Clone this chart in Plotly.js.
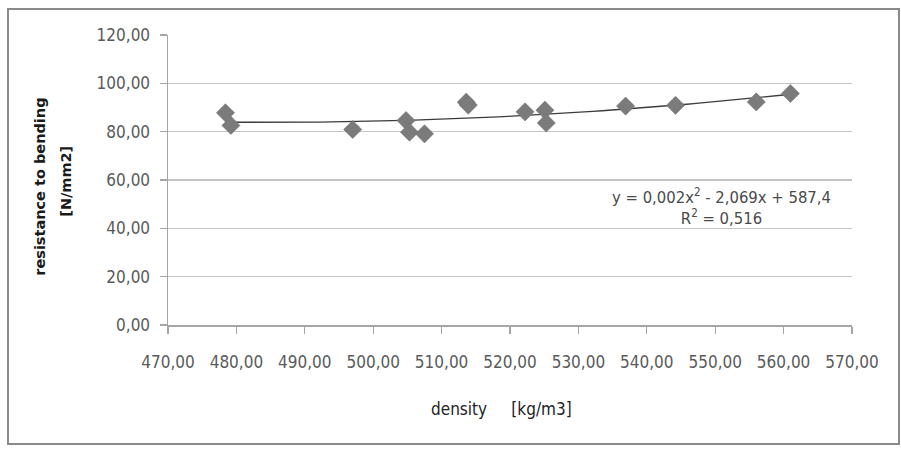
<!DOCTYPE html>
<html>
<head>
<meta charset="utf-8">
<script src="https://cdn.plot.ly/plotly-3.0.1.min.js"></script>
<style>
  html, body { margin: 0; padding: 0; background: #ffffff; }
  #wrap { position: relative; width: 901px; height: 451px; }
  #chart { position: absolute; left: 0; top: 0; width: 901px; height: 451px; }
  #frame { position: absolute; left: 7px; top: 8px; width: 889px; height: 433px;
           border: 2px solid #8a8a8a; pointer-events: none; }
</style>
</head>
<body>
<div id="wrap">
  <div id="chart"></div>
  <div id="frame"></div>
</div>
<script>
// Density [kg/m3] and resistance to bending [N/mm2] of the samples
const density = [478.4, 479.2, 497.0, 504.8, 505.3, 507.5, 513.6, 513.9,
                 522.2, 525.1, 525.3, 536.9, 544.2, 556.0, 561.0];
const resistance = [87.8, 82.6, 80.9, 84.6, 79.8, 79.1, 92.2, 91.0,
                    88.2, 88.9, 83.6, 90.6, 90.9, 92.3, 95.8];

const xTicks = [470, 480, 490, 500, 510, 520, 530, 540, 550, 560, 570];
const yTicks = [0, 20, 40, 60, 80, 100, 120];

// Second-order polynomial least-squares fit (same as a spreadsheet trendline)
function polyFit2(xs, ys) {
  const n = xs.length;
  const xm = xs.reduce((a, b) => a + b, 0) / n;
  let S = [0, 0, 0, 0, 0], T = [0, 0, 0];
  for (let i = 0; i < n; i++) {
    const u = xs[i] - xm;
    for (let k = 0; k < 5; k++) S[k] += Math.pow(u, k);
    for (let k = 0; k < 3; k++) T[k] += ys[i] * Math.pow(u, k);
  }
  const A = [[S[0], S[1], S[2]], [S[1], S[2], S[3]], [S[2], S[3], S[4]]];
  const b = T.slice();
  // Gaussian elimination
  for (let i = 0; i < 3; i++) {
    for (let j = i + 1; j < 3; j++) {
      const f = A[j][i] / A[i][i];
      for (let k = i; k < 3; k++) A[j][k] -= f * A[i][k];
      b[j] -= f * b[i];
    }
  }
  const c = [0, 0, 0];
  for (let i = 2; i >= 0; i--) {
    let s = b[i];
    for (let k = i + 1; k < 3; k++) s -= A[i][k] * c[k];
    c[i] = s / A[i][i];
  }
  return x => c[0] + c[1] * (x - xm) + c[2] * (x - xm) * (x - xm);
}

const fit = polyFit2(density, resistance);
const xMin = Math.min(...density), xMax = Math.max(...density);
const trendX = [], trendY = [];
for (let i = 0; i <= 60; i++) {
  const x = xMin + (xMax - xMin) * i / 60;
  trendX.push(x);
  trendY.push(fit(x));
}

const tickFont = { family: 'DejaVu Sans Condensed, DejaVu Sans, sans-serif', size: 17, color: '#5a5a5a' };

const data = [
  {
    x: trendX, y: trendY, type: 'scatter', mode: 'lines',
    line: { color: '#3c3c3c', width: 1.3 }, hoverinfo: 'skip'
  },
  {
    x: density, y: resistance, type: 'scatter', mode: 'markers',
    marker: { symbol: 'diamond', size: 14, color: '#7b7b7b',
              line: { color: '#6e6e6e', width: 0.5 } }
  }
];

const layout = {
  width: 901, height: 451,
  margin: { l: 168, r: 49, t: 35, b: 126 },
  paper_bgcolor: '#ffffff', plot_bgcolor: '#ffffff',
  showlegend: false,
  separators: ', ',
  xaxis: {
    range: [470, 570], tickvals: xTicks, tickformat: '.2f',
    showgrid: false, zeroline: false,
    showline: true, linecolor: '#a6a6a6', linewidth: 1.5,
    ticks: 'outside', ticklen: 7, tickcolor: '#a6a6a6', tickwidth: 1.2,
    ticklabelstandoff: 14,
    tickfont: tickFont, fixedrange: true
  },
  yaxis: {
    range: [0, 120], tickvals: yTicks, tickformat: '.2f',
    showgrid: true, gridcolor: '#c4c4c4', gridwidth: 1.6,
    zeroline: false,
    showline: true, linecolor: '#a6a6a6', linewidth: 1.5,
    ticks: 'outside', ticklen: 7, tickcolor: '#a6a6a6', tickwidth: 1.2,
    ticklabelstandoff: 6,
    tickfont: tickFont, fixedrange: true
  },
  annotations: [
    {
      xref: 'paper', yref: 'paper', x: (501 - 168) / 684, y: -(410 - 325.5) / 290.5,
      text: 'density &nbsp;&nbsp;&nbsp;&nbsp;[kg/m3]', showarrow: false,
      font: { family: 'DejaVu Sans Condensed, DejaVu Sans, sans-serif', size: 17, color: '#222222' },
      xanchor: 'center', yanchor: 'middle'
    },
    {
      xref: 'paper', yref: 'paper', x: (40 - 168) / 684, y: (325.5 - 187) / 290.5,
      text: 'resistance to bending', showarrow: false, textangle: -90,
      font: { family: 'DejaVu Sans, sans-serif', size: 14.5, color: '#1a1a1a', weight: 'bold' },
      xanchor: 'center', yanchor: 'middle'
    },
    {
      xref: 'paper', yref: 'paper', x: (66 - 168) / 684, y: (325.5 - 182) / 290.5,
      text: '[N/mm2]', showarrow: false, textangle: -90,
      font: { family: 'DejaVu Sans, sans-serif', size: 14.5, color: '#1a1a1a', weight: 'bold' },
      xanchor: 'center', yanchor: 'middle'
    },
    {
      xref: 'paper', yref: 'paper', x: (721 - 168) / 684, y: (325.5 - 207) / 290.5,
      text: 'y = 0,002x<sup>2</sup> - 2,069x + 587,4<br>R<sup>2</sup> = 0,516',
      showarrow: false, align: 'center',
      font: { family: 'DejaVu Sans Condensed, DejaVu Sans, sans-serif', size: 16.5, color: '#4a4a4a' },
      xanchor: 'center', yanchor: 'middle'
    }
  ]
};

Plotly.newPlot('chart', data, layout, { displayModeBar: false, staticPlot: true });
</script>
</body>
</html>
